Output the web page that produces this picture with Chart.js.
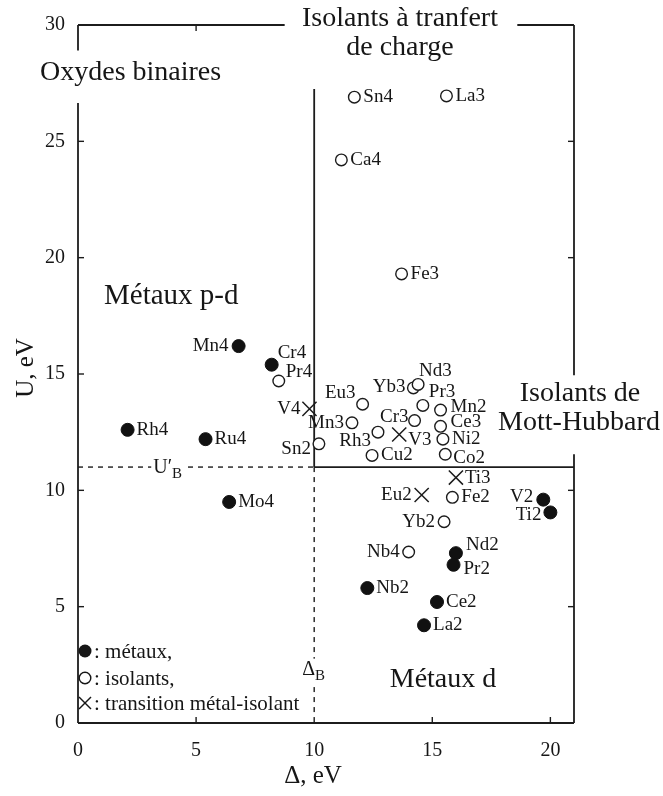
<!DOCTYPE html>
<html>
<head>
<meta charset="utf-8">
<script src="https://cdn.jsdelivr.net/npm/chart.js@4.4.1/dist/chart.umd.min.js"></script>
<style>
  html, body { margin: 0; padding: 0; background: #fff; }
</style>
</head>
<body>
<canvas id="chart" width="663" height="796"></canvas>
<script>
// oxydes: métaux
let metalNames = ['Mn4', 'Cr4', 'Rh4', 'Ru4', 'Mo4', 'V2', 'Ti2', 'Nd2', 'Pr2', 'Ce2', 'Nb2', 'La2'];
let metalDelta = [6.8, 8.2, 2.1, 5.4, 6.4, 19.7, 20.0, 16.0, 15.9, 15.2, 12.25, 14.65];
let metalU     = [16.2, 15.4, 12.6, 12.2, 9.5, 9.6, 9.05, 7.3, 6.8, 5.2, 5.8, 4.2];

// oxydes: isolants
let insNames = ['Pr4', 'Sn4', 'La3', 'Ca4', 'Fe3', 'Sn2', 'Eu3', 'Mn3', 'Rh3', 'Cu2', 'Cr3',
                'Yb3', 'Nd3', 'Pr3', 'Mn2', 'Ce3', 'Ni2', 'Co2', 'Fe2', 'Yb2', 'Nb4'];
let insDelta = [8.5, 11.7, 15.6, 11.15, 13.7, 10.2, 12.05, 11.6, 12.7, 12.45, 14.25,
                14.2, 14.4, 14.6, 15.35, 15.35, 15.45, 15.55, 15.85, 15.5, 14.0];
let insU     = [14.7, 26.9, 26.95, 24.2, 19.3, 12.0, 13.7, 12.9, 12.5, 11.5, 13.0,
                14.4, 14.55, 13.65, 13.45, 12.75, 12.2, 11.55, 9.7, 8.65, 7.35];

// oxydes: transition métal-isolant
let mitNames = ['V4', 'V3', 'Ti3', 'Eu2'];
let mitDelta = [9.8, 13.6, 16.0, 14.55];
let mitU     = [13.5, 12.4, 10.55, 9.8];

let deltaB = 10;   // Δ_B
let uB = 11;       // U'_B
let xTicks = [0, 5, 10, 15, 20];
let yTicks = [0, 5, 10, 15, 20, 25, 30];

const ink = '#161616';
const serif = '"Liberation Serif", "DejaVu Serif", serif';

// where each name sits next to its marker: [dx, dy, align]
const labelPos = {
  Mn4: [-10, 0, 'right'], V4: [-9, 0, 'right'], Mn3: [-8, 0, 'right'], Yb3: [-8, -1, 'right'],
  Eu2: [-10, 0, 'right'], Yb2: [-9, 0, 'right'], Nb4: [-9, 0, 'right'],
  Cr4: [6, -12, 'left'], Pr4: [7, -9, 'left'], Sn2: [-8, 5, 'right'], Eu3: [-7, -11, 'right'],
  Rh3: [-7, 9, 'right'], V3: [9, 6, 'left'], Cr3: [-6, -4, 'right'], Nd3: [1, -13, 'left'],
  Pr3: [6, -13, 'left'], Mn2: [10, -3, 'left'], Ce3: [10, -4, 'left'], Co2: [8, 4, 'left'],
  Nd2: [10, -8, 'left'], Pr2: [10, 4, 'left'], V2: [-10, -3, 'right'], Ti2: [-9, 3, 'right']
};

function toPoints(names, xs, ys) {
  return names.map((n, i) => ({ x: xs[i], y: ys[i], name: n }));
}

function line(ctx, x1, y1, x2, y2) {
  ctx.beginPath();
  ctx.moveTo(x1, y1);
  ctx.lineTo(x2, y2);
  ctx.stroke();
}

// text with a subscript letter, e.g. U'B, ΔB
function subText(ctx, main, sub, x, y, size) {
  ctx.font = size + 'px ' + serif;
  ctx.textAlign = 'left';
  ctx.textBaseline = 'middle';
  ctx.fillText(main, x, y);
  let w = ctx.measureText(main).width;
  ctx.font = Math.round(size * 0.75) + 'px ' + serif;
  ctx.fillText(sub, x + w, y + size * 0.3);
}

const frame = {
  id: 'frame',
  beforeDatasetsDraw(chart) {
    const ctx = chart.ctx;
    const sx = chart.scales.x, sy = chart.scales.y;
    const px = v => sx.getPixelForValue(v), py = v => sy.getPixelForValue(v);
    ctx.save();
    ctx.strokeStyle = '#1c1c1c';
    ctx.lineWidth = 1.8;

    // box with gaps left for the region names
    line(ctx, px(0), py(30), px(0), py(28.9));
    line(ctx, px(0), py(26.65), px(0), py(0));
    line(ctx, px(0), py(0), px(21), py(0));
    line(ctx, px(0), py(30), px(8.75), py(30));
    line(ctx, px(18.6), py(30), px(21), py(30));
    line(ctx, px(21), py(30), px(21), py(14.95));
    line(ctx, px(21), py(11.55), px(21), py(0));

    // inward ticks
    ctx.lineWidth = 1.4;
    xTicks.slice(1).forEach(v => {
      if (v !== deltaB) line(ctx, px(v), py(0), px(v), py(0) - 6);
    });
    line(ctx, px(5), py(30), px(5), py(30) + 6);
    yTicks.slice(1, -1).forEach(v => {
      line(ctx, px(0), py(v), px(0) + 6, py(v));
      if (v <= 10 || v >= 20) line(ctx, px(21), py(v), px(21) - 6, py(v));
    });

    // Δ_B and U'_B borders
    ctx.lineWidth = 1.8;
    line(ctx, px(deltaB), py(27.25), px(deltaB), py(uB));
    line(ctx, px(deltaB), py(uB), px(21), py(uB));
    ctx.lineWidth = 1.4;
    ctx.setLineDash([5, 5]);
    line(ctx, px(0), py(uB), px(deltaB), py(uB));
    line(ctx, px(deltaB), py(uB), px(deltaB), py(0));
    ctx.setLineDash([]);

    // boundary labels on a white patch
    ctx.fillStyle = '#fff';
    ctx.fillRect(px(3.1), py(uB) - 9, 36, 20);
    ctx.fillRect(px(deltaB) - 14, py(2.25) - 12, 30, 26);
    ctx.fillStyle = ink;
    subText(ctx, 'U\u2032', 'B', px(3.1) + 2, py(uB) + 1, 20);
    subText(ctx, '\u0394', 'B', px(deltaB) - 12, py(2.25) - 1, 20);
    ctx.restore();
  },
  afterDatasetsDraw(chart) {
    const ctx = chart.ctx;
    const sx = chart.scales.x, sy = chart.scales.y;
    const px = v => sx.getPixelForValue(v), py = v => sy.getPixelForValue(v);
    ctx.save();
    ctx.fillStyle = ink;

    // names of the oxides
    ctx.font = '19px ' + serif;
    ctx.textBaseline = 'middle';
    chart.data.datasets.forEach(ds => {
      ds.data.forEach(p => {
        let pos = labelPos[p.name] || [9, 0, 'left'];
        ctx.textAlign = pos[2];
        ctx.fillText(p.name, px(p.x) + pos[0], py(p.y) + pos[1]);
      });
    });

    // region names
    ctx.font = '28px ' + serif;
    ctx.textAlign = 'left';
    ctx.fillText('Oxydes binaires', 40, 73);
    ctx.font = '29px ' + serif;
    ctx.fillText('M\u00e9taux p-d', 104, 296);
    ctx.font = '28px ' + serif;
    ctx.textAlign = 'center';
    ctx.fillText('Isolants \u00e0 tranfert', 400, 19);
    ctx.fillText('de charge', 400, 48);
    ctx.fillText('Isolants de', 580, 394);
    ctx.fillText('Mott-Hubbard', 579, 423);
    ctx.fillText('M\u00e9taux d', 443, 680);

    // axis titles
    ctx.font = '25px ' + serif;
    ctx.fillText('\u0394, eV', 313, 776);
    ctx.save();
    ctx.translate(26, 368);
    ctx.rotate(-Math.PI / 2);
    ctx.fillText('U, eV', 0, 0);
    ctx.restore();

    // key
    const kx = 85;
    ctx.lineWidth = 1.4;
    ctx.strokeStyle = ink;
    ctx.beginPath();
    ctx.arc(kx, 651, 6.5, 0, Math.PI * 2);
    ctx.fill();
    ctx.fillStyle = '#fff';
    ctx.beginPath();
    ctx.arc(kx, 678, 5.8, 0, Math.PI * 2);
    ctx.fill();
    ctx.stroke();
    line(ctx, kx - 6, 697, kx + 6, 709);
    line(ctx, kx + 6, 697, kx - 6, 709);
    ctx.fillStyle = ink;
    ctx.font = '21px ' + serif;
    ctx.textAlign = 'left';
    ctx.fillText(': m\u00e9taux,', 94, 652);
    ctx.fillText(': isolants,', 94, 679);
    ctx.fillText(': transition m\u00e9tal-isolant', 94, 704);
    ctx.restore();
  }
};

new Chart(document.getElementById('chart'), {
  type: 'scatter',
  data: {
    datasets: [{
      label: 'métaux',
      data: toPoints(metalNames, metalDelta, metalU),
      pointStyle: 'circle',
      pointRadius: 6.5,
      backgroundColor: '#111',
      borderColor: '#111',
      borderWidth: 1
    }, {
      label: 'isolants',
      data: toPoints(insNames, insDelta, insU),
      pointStyle: 'circle',
      pointRadius: 5.8,
      backgroundColor: '#fff',
      borderColor: '#1c1c1c',
      borderWidth: 1.4
    }, {
      label: 'transition métal-isolant',
      data: toPoints(mitNames, mitDelta, mitU),
      pointStyle: 'crossRot',
      pointRadius: 10,
      borderColor: '#1c1c1c',
      borderWidth: 1.5
    }]
  },
  options: {
    responsive: false,
    animation: false,
    events: [],
    layout: { padding: { top: 19, right: 89, left: 0, bottom: 0 } },
    plugins: { legend: { display: false }, tooltip: { enabled: false } },
    scales: {
      x: {
        type: 'linear',
        min: 0,
        max: 21,
        afterFit: s => { s.height = 73; },
        grid: { display: false, drawTicks: false },
        border: { display: false },
        ticks: {
          stepSize: 5,
          includeBounds: false,
          padding: 16,
          color: ink,
          font: { family: serif, size: 20 }
        }
      },
      y: {
        type: 'linear',
        min: 0,
        max: 30,
        afterFit: s => { s.width = 78; },
        grid: { display: false, drawTicks: false },
        border: { display: false },
        ticks: {
          stepSize: 5,
          padding: 13,
          color: ink,
          font: { family: serif, size: 20 }
        }
      }
    }
  },
  plugins: [frame]
});
</script>
</body>
</html>
